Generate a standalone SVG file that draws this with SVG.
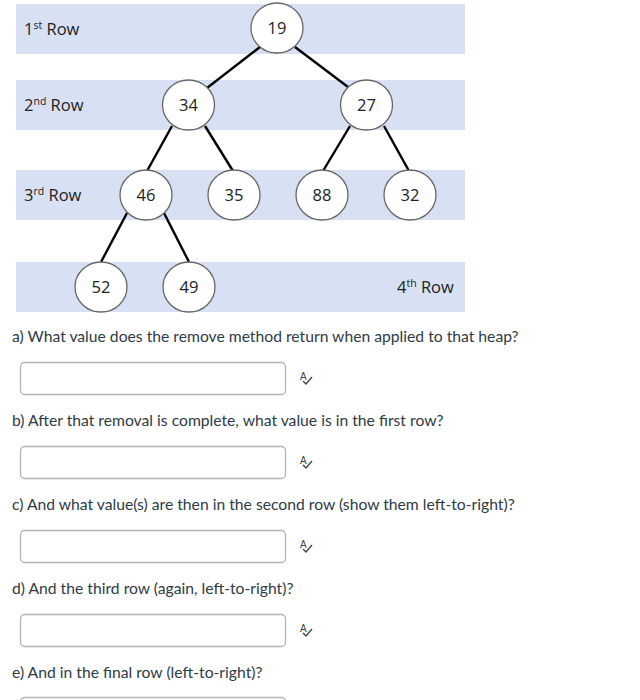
<svg xmlns="http://www.w3.org/2000/svg" width="640" height="700" viewBox="0 0 640 700">
<style>
.band{fill:#d7e1f3}
.node ellipse{fill:#fff;stroke:#666;stroke-width:1.3}
.num{font-family:"Open Sans","Liberation Sans",sans-serif;font-size:16.5px;fill:#222;text-anchor:middle}
.lbl{font-family:"Open Sans","Liberation Sans",sans-serif;font-size:16.5px;fill:#222}
.sup{font-size:10.5px}
.edges line{stroke:#000;stroke-width:2.4}
.q{font-family:Lato,"Liberation Sans",sans-serif;font-size:15.7px;fill:#2d3b45}
.box{fill:#fff;stroke:#b4b4b4;stroke-width:1.3}
.icon text{font-family:"Liberation Sans",sans-serif;font-size:10px;fill:#444}
.icon path{fill:none;stroke:#444;stroke-width:1.4}
</style>
<rect class="band" x="16" y="4" width="449" height="50"/>
<rect class="band" x="16" y="80" width="449" height="50"/>
<rect class="band" x="16" y="170" width="449" height="50"/>
<rect class="band" x="16" y="262" width="449" height="50"/>
<text class="lbl" x="24" y="35">1<tspan class="sup" dy="-6">st</tspan><tspan dy="6"> Row</tspan></text>
<text class="lbl" x="24" y="111">2<tspan class="sup" dy="-6">nd</tspan><tspan dy="6"> Row</tspan></text>
<text class="lbl" x="24" y="201">3<tspan class="sup" dy="-6">rd</tspan><tspan dy="6"> Row</tspan></text>
<text class="lbl" x="397" y="293">4<tspan class="sup" dy="-6">th</tspan><tspan dy="6"> Row</tspan></text>
<g class="edges">
<line x1="260" y1="47" x2="207" y2="88"/>
<line x1="295" y1="47" x2="348" y2="87"/>
<line x1="172" y1="126" x2="147" y2="171"/>
<line x1="205" y1="126" x2="233" y2="171"/>
<line x1="350" y1="126" x2="323" y2="171"/>
<line x1="384" y1="126" x2="409" y2="171"/>
<line x1="127" y1="213" x2="101" y2="262"/>
<line x1="164" y1="213" x2="189" y2="262"/>
</g>
<g id="n19" class="node"><ellipse cx="277" cy="28" rx="26" ry="25"/><text class="num" x="277" y="34">19</text></g>
<g id="n34" class="node"><ellipse cx="188.5" cy="105" rx="26" ry="25"/><text class="num" x="188.5" y="111">34</text></g>
<g id="n27" class="node"><ellipse cx="366.5" cy="105" rx="26" ry="25"/><text class="num" x="366.5" y="111">27</text></g>
<g id="n46" class="node"><ellipse cx="146" cy="195" rx="26" ry="25"/><text class="num" x="146" y="201">46</text></g>
<g id="n35" class="node"><ellipse cx="234" cy="195" rx="26" ry="25"/><text class="num" x="234" y="201">35</text></g>
<g id="n88" class="node"><ellipse cx="322" cy="195" rx="26" ry="25"/><text class="num" x="322" y="201">88</text></g>
<g id="n32" class="node"><ellipse cx="410" cy="195" rx="26" ry="25"/><text class="num" x="410" y="201">32</text></g>
<g id="n52" class="node"><ellipse cx="101" cy="287" rx="26" ry="25"/><text class="num" x="101" y="293">52</text></g>
<g id="n49" class="node"><ellipse cx="189" cy="287" rx="26" ry="25"/><text class="num" x="189" y="293">49</text></g>
<text class="q" x="12" y="342">a) What value does the remove method return when applied to that heap?</text>
<rect class="box" x="20.5" y="362.5" width="265" height="32" rx="4"/>
<g class="icon"><text x="300" y="380">A</text><path d="M303 381 l3 3 l6 -7"/></g>
<text class="q" x="12" y="426">b) After that removal is complete, what value is in the first row?</text>
<rect class="box" x="20.5" y="446.5" width="265" height="32" rx="4"/>
<g class="icon"><text x="300" y="464">A</text><path d="M303 465 l3 3 l6 -7"/></g>
<text class="q" x="12" y="510">c) And what value(s) are then in the second row (show them left-to-right)?</text>
<rect class="box" x="20.5" y="530.5" width="265" height="32" rx="4"/>
<g class="icon"><text x="300" y="548">A</text><path d="M303 549 l3 3 l6 -7"/></g>
<text class="q" x="12" y="594">d) And the third row (again, left-to-right)?</text>
<rect class="box" x="20.5" y="614.5" width="265" height="32" rx="4"/>
<g class="icon"><text x="300" y="632">A</text><path d="M303 633 l3 3 l6 -7"/></g>
<text class="q" x="12" y="678">e) And in the final row (left-to-right)?</text>
<rect class="box" x="20.5" y="697.5" width="265" height="32" rx="4"/>
</svg>
